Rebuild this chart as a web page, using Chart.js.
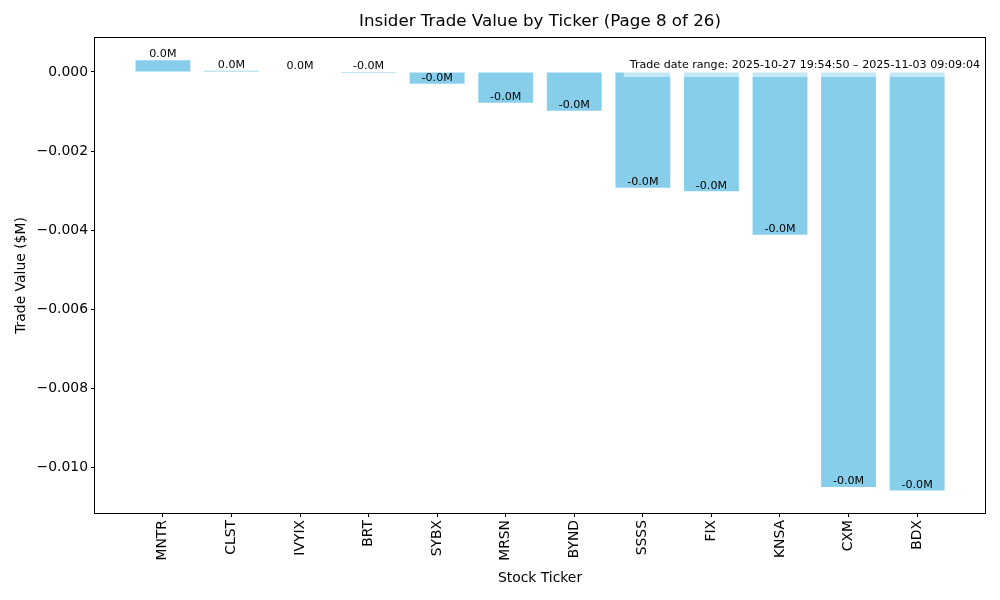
<!DOCTYPE html>
<html>
<head>
<meta charset="utf-8">
<script src="https://cdn.jsdelivr.net/npm/chart.js@4/dist/chart.umd.min.js"></script>
<style>
  html, body { margin: 0; background: #fff; }
</style>
</head>
<body>
<canvas id="tradeChart" width="1000" height="600"></canvas>
<script>
// Datos
const tickers = ['MNTR', 'CLST', 'IVYIX', 'BRT', 'SYBX', 'MRSN', 'BYND', 'SSSS', 'FIX', 'KNSA', 'CXM', 'BDX'];
const tradeValues = [0.0003, 0.00003, 0, -0.000000001, -0.0003, -0.00078, -0.00098, -0.00293, -0.00302, -0.00412, -0.0105, -0.01059];
const yTicks = [0, -0.002, -0.004, -0.006, -0.008, -0.010];
const chartTitle = 'Insider Trade Value by Ticker (Page 8 of 26)';
const dateRangeText = 'Trade date range: 2025-10-27 19:54:50 \u2013 2025-11-03 09:09:04';

const FONT = 'DejaVu Sans';
Chart.defaults.color = '#000';
Chart.defaults.font.family = FONT;

const extrasPlugin = {
    id: 'extras',
    afterDatasetsDraw(chart) {
        const ctx = chart.ctx;
        const area = chart.chartArea;
        const meta = chart.getDatasetMeta(0);
        const yScale = chart.scales.y;

        // etiquetas de las barras
        ctx.save();
        ctx.font = '11.1px "' + FONT + '"';
        ctx.fillStyle = '#000';
        ctx.textAlign = 'center';
        ctx.textBaseline = 'bottom';
        meta.data.forEach(function (bar, i) {
            const v = tradeValues[i];
            const y = yScale.getPixelForValue(v);
            ctx.fillText(v.toFixed(1) + 'M', bar.x, y);
        });

        // caja con el rango de fechas
        const textRight = area.right - 5;
        const textMid = area.top + 27;
        const w = ctx.measureText(dateRangeText).width;
        ctx.fillStyle = 'rgba(255,255,255,0.5)';
        ctx.fillRect(textRight - w - 6, area.top + 16, area.right + 2 - (textRight - w - 6), 23);
        ctx.fillStyle = '#000';
        ctx.textAlign = 'left';
        ctx.textBaseline = 'middle';
        ctx.fillText(dateRangeText, textRight - w, textMid);
        ctx.restore();
    },
    afterDraw(chart) {
        const ctx = chart.ctx;
        const area = chart.chartArea;
        ctx.save();
        // marco del área de trazado
        ctx.strokeStyle = '#000';
        ctx.lineWidth = 1;
        ctx.strokeRect(Math.round(area.left) - 0.5, Math.round(area.top) - 0.5,
            Math.round(area.right - area.left) + 1, Math.round(area.bottom - area.top) + 1);
        // título
        ctx.font = '16.7px "' + FONT + '"';
        ctx.fillStyle = '#000';
        ctx.textAlign = 'center';
        ctx.textBaseline = 'middle';
        ctx.fillText(chartTitle, (area.left + area.right) / 2, 22);
        ctx.restore();
    }
};

const ctx = document.getElementById('tradeChart').getContext('2d');
const chart = new Chart(ctx, {
    type: 'bar',
    data: {
        datasets: [{
            label: 'Trade Value',
            data: tradeValues.map(function (v, i) { return { x: i, y: v }; }),
            backgroundColor: '#87CEEB',
            borderWidth: 0,
            inflateAmount: 0,
            barPercentage: 0.8,
            categoryPercentage: 1.0
        }]
    },
    options: {
        responsive: false,
        animation: false,
        devicePixelRatio: 1,
        layout: { padding: { top: 38, right: 15, left: 0, bottom: 0 } },
        plugins: {
            legend: { display: false },
            tooltip: { enabled: false },
            title: { display: false }
        },
        scales: {
            x: {
                type: 'linear',
                offset: false,
                min: -0.99,
                max: 11.99,
                afterBuildTicks: function (axis) {
                    axis.ticks = tickers.map(function (_, i) { return { value: i }; });
                },
                afterFit: function (axis) { axis.height = 87; },
                ticks: {
                    autoSkip: false,
                    maxRotation: 90,
                    minRotation: 90,
                    padding: 3,
                    font: { size: 13.9 },
                    callback: function (v) { return tickers[v] !== undefined ? tickers[v] : ''; }
                },
                grid: { display: true, offset: false, drawOnChartArea: false, drawTicks: true, tickLength: 4, color: '#000' },
                border: { display: false },
                title: { display: true, text: 'Stock Ticker', font: { size: 13.9 }, padding: { top: 0, bottom: 13.7 } }
            },
            y: {
                min: -0.01116,
                max: 0.00086,
                afterBuildTicks: function (axis) {
                    axis.ticks = yTicks.map(function (v) { return { value: v }; });
                },
                afterFit: function (axis) { axis.width = 95; },
                ticks: {
                    padding: 3,
                    font: { size: 13.9 },
                    callback: function (v) {
                        return v === 0 ? '0.000' : '\u2212' + Math.abs(v).toFixed(3);
                    }
                },
                grid: { display: true, drawOnChartArea: false, drawTicks: true, tickLength: 4, color: '#000' },
                border: { display: false },
                title: { display: true, text: 'Trade Value ($M)', font: { size: 13.9 }, padding: { top: 12.7, bottom: 0 } }
            }
        }
    },
    plugins: [extrasPlugin]
});
</script>
</body>
</html>
